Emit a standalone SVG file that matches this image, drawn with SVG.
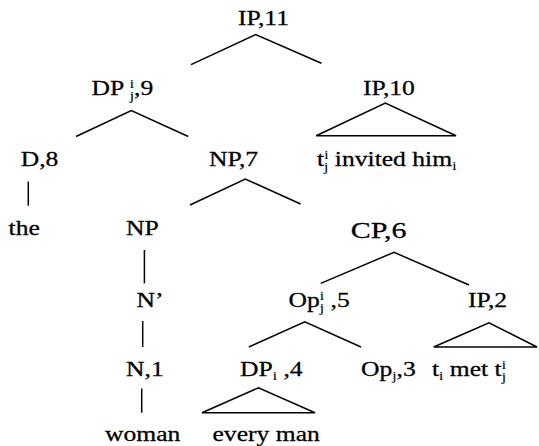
<svg xmlns="http://www.w3.org/2000/svg" width="539" height="446" viewBox="0 0 539 446">
<style>
text{font-family:"Liberation Serif","Times New Roman",serif;font-size:20px;fill:#000;stroke:#000;stroke-width:0.25}
.big{font-size:24px}
.s{font-size:12px;stroke-width:0.1}
.e{stroke:#000;stroke-width:1.5;fill:none;stroke-linejoin:miter}
</style>
<rect width="539" height="446" fill="#fff"/>
<g id="connectors" class="e">
<polyline points="191,64.6 255.7,34.6 321.4,63.2"/>
<polyline points="76,136.5 131.3,110.6 188.3,136.5"/>
<polygon points="316.2,135.8 385.3,103 456,135.8"/>
<line x1="28.3" y1="181.5" x2="28.3" y2="205.7"/>
<polyline points="190,205 245.3,179 300.6,204"/>
<line x1="144.4" y1="250" x2="144.4" y2="283.4"/>
<polyline points="320.7,283.4 394,252.3 469,285"/>
<line x1="142.7" y1="321" x2="142.7" y2="347"/>
<polyline points="248.8,347 304.8,321.8 361,347"/>
<polygon points="433.7,347 489,322.8 537,347"/>
<line x1="141.7" y1="388.5" x2="141.7" y2="412.7"/>
<polygon points="202,412.7 258.5,387.8 315,412.7"/>
</g>
<g id="n-ip11" transform="translate(238,25) scale(1.28,1)"><text>IP,11</text></g>
<g id="n-dp9" transform="translate(91.6,95) scale(1.28,1)"><text>DP <tspan class="s" dy="5">j</tspan><tspan class="s" dx="-3.3" dy="-12">i</tspan><tspan dy="7">,9</tspan></text></g>
<g id="n-ip10" transform="translate(363,95) scale(1.28,1)"><text>IP,10</text></g>
<g id="n-d8" transform="translate(20.7,166) scale(1.28,1)"><text>D,8</text></g>
<g id="n-np7" transform="translate(209,166) scale(1.28,1)"><text>NP,7</text></g>
<g id="n-ip10-leaf" transform="translate(317,166) scale(1.28,1)"><text>t<tspan class="s" dy="5">j</tspan><tspan class="s" dx="-3.3" dy="-12">i</tspan><tspan dy="7"> invited him</tspan><tspan class="s" dy="4">i</tspan></text></g>
<g id="n-the" transform="translate(8.6,235) scale(1.28,1)"><text>the</text></g>
<g id="n-np" transform="translate(126,235) scale(1.28,1)"><text>NP</text></g>
<g id="n-cp6" transform="translate(350.7,238) scale(1.25,1)"><text class="big">CP,6</text></g>
<g id="n-nbar" transform="translate(136.5,307) scale(1.28,1)"><text>N’</text></g>
<g id="n-op5" transform="translate(288.5,307) scale(1.28,1)"><text>Op<tspan class="s" dy="5">j</tspan><tspan class="s" dx="-3.3" dy="-12">i</tspan><tspan dy="7"> ,5</tspan></text></g>
<g id="n-ip2" transform="translate(468,307) scale(1.28,1)"><text>IP,2</text></g>
<g id="n-n1" transform="translate(126,376) scale(1.28,1)"><text>N,1</text></g>
<g id="n-dp4" transform="translate(240,376) scale(1.28,1)"><text>DP<tspan class="s" dy="4">i</tspan><tspan dy="-4"> ,4</tspan></text></g>
<g id="n-op3" transform="translate(361,376) scale(1.28,1)"><text>Op<tspan class="s" dy="4">j</tspan><tspan dy="-4">,3</tspan></text></g>
<g id="n-ip2-leaf" transform="translate(432,376) scale(1.28,1)"><text>t<tspan class="s" dy="4">i</tspan><tspan dy="-4"> met t</tspan><tspan class="s" dy="5">j</tspan><tspan class="s" dx="-3.3" dy="-12">i</tspan></text></g>
<g id="n-woman" transform="translate(105,441) scale(1.28,1)"><text>woman</text></g>
<g id="n-everyman" transform="translate(212.5,441) scale(1.28,1)"><text>every man</text></g>
</svg>
